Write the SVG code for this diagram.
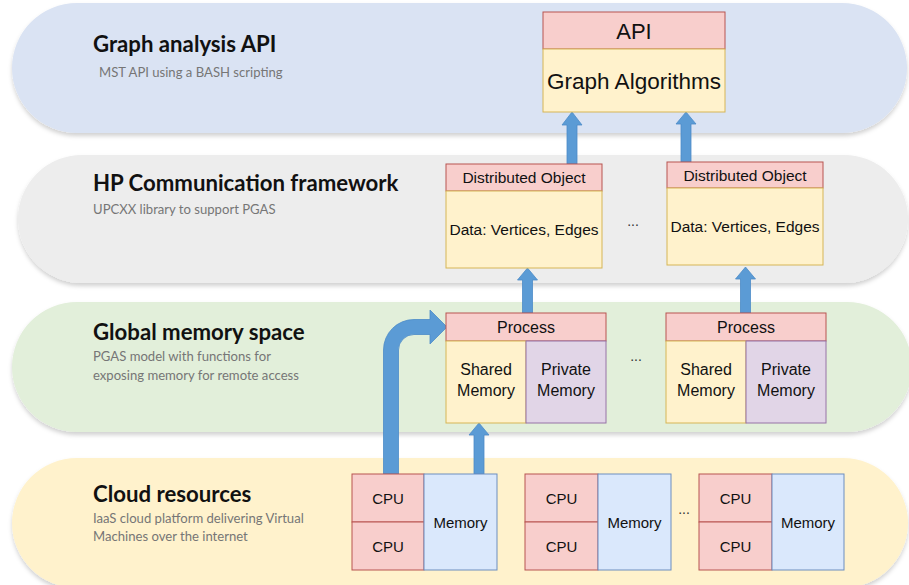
<svg xmlns="http://www.w3.org/2000/svg" width="909" height="585" viewBox="0 0 909 585">
  <defs>
    <filter id="bandShadow" x="-5%" y="-10%" width="110%" height="125%">
      <feDropShadow dx="0" dy="3" stdDeviation="2" flood-color="#000" flood-opacity="0.18"/>
    </filter>
    <style>
      .band { filter: url(#bandShadow); }
      .layer-title { font-family: Lato, "Open Sans", "Liberation Sans", sans-serif; font-weight: bold; font-size: 22.2px; fill: #111; }
      .layer-sub { font-family: Lato, "Open Sans", "Liberation Sans", sans-serif; font-size: 13.1px; fill: #767676; }
      .lbl { font-family: "Liberation Sans", Arial, sans-serif; fill: #111; text-anchor: middle; }
      .red { fill: #f8cecc; stroke: #b85450; stroke-width: 1; }
      .yel { fill: #fff2cc; stroke: #d6b656; stroke-width: 1; }
      .pur { fill: #e1d5e7; stroke: #9673a6; stroke-width: 1; }
      .blu { fill: #dae8fc; stroke: #6c8ebf; stroke-width: 1; }
      .arrow { fill: #5b9bd5; stroke: #4d8cc8; stroke-width: 0.8; }
      .dots { font-family: "Liberation Sans", Arial, sans-serif; font-size: 14px; fill: #333; text-anchor: middle; }
    </style>
  </defs>

  <rect width="909" height="585" fill="#ffffff"/>

  <!-- Layer bands -->
  <g id="layer-api">
    <rect class="band" x="12" y="3" width="895" height="130" rx="65" fill="#dae3f3"/>
    <text class="layer-title" x="93" y="52">Graph analysis API</text>
    <text class="layer-sub" x="99" y="77">MST API using a BASH scripting</text>
  </g>
  <g id="layer-comm">
    <rect class="band" x="18" y="155" width="890" height="128" rx="64" fill="#ededed"/>
    <text class="layer-title" x="93" y="191">HP Communication framework</text>
    <text class="layer-sub" x="93" y="214">UPCXX library to support PGAS</text>
  </g>
  <g id="layer-memory">
    <rect class="band" x="12" y="302" width="900" height="130" rx="65" fill="#e2efda"/>
    <text class="layer-title" x="93" y="340">Global memory space</text>
    <text class="layer-sub" x="93" y="361">PGAS model with functions for</text>
    <text class="layer-sub" x="93" y="380">exposing memory  for remote access</text>
  </g>
  <g id="layer-cloud">
    <rect class="band" x="12" y="458" width="896" height="130" rx="65" fill="#fff2cc"/>
    <text class="layer-title" x="93" y="502">Cloud resources</text>
    <text class="layer-sub" x="93" y="523">IaaS cloud platform delivering Virtual</text>
    <text class="layer-sub" x="93" y="541">Machines over the internet</text>
  </g>

  <!-- Connectors -->
  <g id="connectors">
    <!-- Distributed Object 1 -> API -->
    <path class="arrow" d="M567,164 V125 H562 L572,112 L582,125 H577 V164 Z"/>
    <!-- Distributed Object 2 -> API -->
    <path class="arrow" d="M681,162 V124 H676 L686,112 L696,124 H691 V162 Z"/>
    <!-- Process 1 -> Distributed Object 1 -->
    <path class="arrow" d="M522.5,313 V280 H517.5 L527.5,268 L537.5,280 H532.5 V313 Z"/>
    <!-- Process 2 -> Distributed Object 2 -->
    <path class="arrow" d="M740.5,313 V279 H735.5 L745.5,267 L755.5,279 H750.5 V313 Z"/>
    <!-- Memory -> Shared Memory -->
    <path class="arrow" d="M474,474 V435 H469 L479,423 L489,435 H484 V474 Z"/>
    <!-- CPU -> Process (bent) -->
    <path class="arrow" d="M383.5,474 V350 A30.5,30.5 0 0 1 414,319.5 H430 V310 L447,327 L430,344 V334.5 H414 A15.5,15.5 0 0 0 398.5,350 V474 Z"/>
  </g>

  <!-- API node -->
  <g id="api">
    <rect class="red" x="543" y="12" width="182" height="37"/>
    <rect class="yel" x="543" y="49" width="182" height="63"/>
    <text class="lbl" x="634" y="38.5" font-size="22">API</text>
    <text class="lbl" x="634" y="88.5" font-size="22.5">Graph Algorithms</text>
  </g>

  <!-- Distributed objects -->
  <g id="dobj-1">
    <rect class="red" x="446" y="164" width="156" height="27"/>
    <rect class="yel" x="446" y="191" width="156" height="77"/>
    <text class="lbl" x="524" y="183" font-size="15.5">Distributed Object</text>
    <text class="lbl" x="524" y="235" font-size="15.5">Data: Vertices, Edges</text>
  </g>
  <text class="dots" x="633" y="226">...</text>
  <g id="dobj-2">
    <rect class="red" x="667" y="162" width="156" height="26"/>
    <rect class="yel" x="667" y="188" width="156" height="77"/>
    <text class="lbl" x="745" y="180.5" font-size="15.5">Distributed Object</text>
    <text class="lbl" x="745" y="232" font-size="15.5">Data: Vertices, Edges</text>
  </g>

  <!-- Processes -->
  <g id="process-1">
    <rect class="red" x="446" y="313" width="160" height="28"/>
    <rect class="yel" x="446" y="341" width="80" height="82"/>
    <rect class="pur" x="526" y="341" width="80" height="82"/>
    <text class="lbl" x="526" y="333" font-size="16">Process</text>
    <text class="lbl" x="486" y="375" font-size="16">Shared</text>
    <text class="lbl" x="486" y="396" font-size="16">Memory</text>
    <text class="lbl" x="566" y="375" font-size="16">Private</text>
    <text class="lbl" x="566" y="396" font-size="16">Memory</text>
  </g>
  <text class="dots" x="636" y="361">...</text>
  <g id="process-2">
    <rect class="red" x="666" y="313" width="160" height="28"/>
    <rect class="yel" x="666" y="341" width="80" height="82"/>
    <rect class="pur" x="746" y="341" width="80" height="82"/>
    <text class="lbl" x="746" y="333" font-size="16">Process</text>
    <text class="lbl" x="706" y="375" font-size="16">Shared</text>
    <text class="lbl" x="706" y="396" font-size="16">Memory</text>
    <text class="lbl" x="786" y="375" font-size="16">Private</text>
    <text class="lbl" x="786" y="396" font-size="16">Memory</text>
  </g>

  <!-- Virtual machines -->
  <g id="vm-1">
    <rect class="red" x="352" y="474" width="72" height="48"/>
    <rect class="red" x="352" y="522" width="72" height="48"/>
    <rect class="blu" x="424" y="474" width="73" height="96"/>
    <text class="lbl" x="388" y="503.5" font-size="15">CPU</text>
    <text class="lbl" x="388" y="551.5" font-size="15">CPU</text>
    <text class="lbl" x="460.5" y="527.5" font-size="15">Memory</text>
  </g>
  <g id="vm-2">
    <rect class="red" x="525" y="474" width="73" height="48"/>
    <rect class="red" x="525" y="522" width="73" height="48"/>
    <rect class="blu" x="598" y="474" width="73" height="96"/>
    <text class="lbl" x="561.5" y="503.5" font-size="15">CPU</text>
    <text class="lbl" x="561.5" y="551.5" font-size="15">CPU</text>
    <text class="lbl" x="634.5" y="527.5" font-size="15">Memory</text>
  </g>
  <text class="dots" x="684" y="514">...</text>
  <g id="vm-3">
    <rect class="red" x="699" y="474" width="73" height="48"/>
    <rect class="red" x="699" y="522" width="73" height="48"/>
    <rect class="blu" x="772" y="474" width="72" height="96"/>
    <text class="lbl" x="735.5" y="503.5" font-size="15">CPU</text>
    <text class="lbl" x="735.5" y="551.5" font-size="15">CPU</text>
    <text class="lbl" x="808" y="527.5" font-size="15">Memory</text>
  </g>
</svg>
